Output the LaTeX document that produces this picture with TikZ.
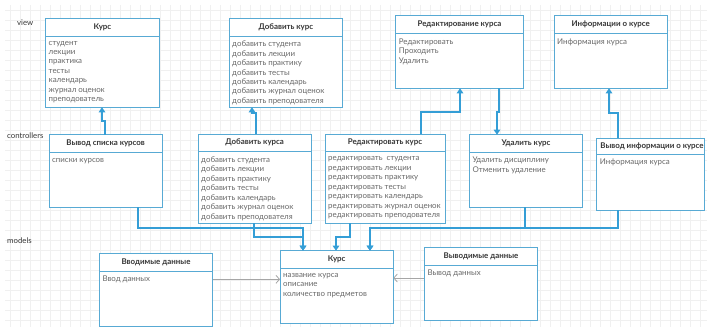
\documentclass[tikz,border=0pt]{standalone}
\usepackage{fontspec}
\setmainfont{Lato}
\usepackage{tikz}
\usetikzlibrary{arrows.meta}

\definecolor{boxblue}{RGB}{88,170,212}
\definecolor{linkblue}{RGB}{52,158,214}
\definecolor{headgray}{RGB}{55,55,55}
\definecolor{textgray}{RGB}{105,105,105}
\definecolor{gridgray}{RGB}{240,240,240}

\begin{document}
\begin{tikzpicture}[x=1pt, y=-1pt,
    umlbox/.style={draw=boxblue, line width=1pt, fill=white, inner sep=0pt, outer sep=0pt, anchor=north west},
    sep/.style={draw=boxblue, line width=1pt},
    title/.style={font=\fontsize{7.9}{9.4}\selectfont\bfseries, text=headgray, text height=5.4pt, text depth=1.4pt, inner sep=0pt},
    items/.style={font=\fontsize{7.9}{9.45}\selectfont, text=textgray, align=left, anchor=north west, inner sep=0pt, execute at begin node={\vphantom{Ay}}},
    layer/.style={font=\fontsize{7.8}{9}\selectfont, text=headgray, anchor=west, inner sep=0pt},
    link/.style={draw=linkblue, line width=1.2pt, -{Triangle[length=5pt,width=6.5pt]}},
    flow/.style={draw=gray!70, line width=0.8pt, -{Straight Barb[length=3.5pt,width=8pt]}}]
    \useasboundingbox (0,0) rectangle (707,327);

    % Background grid
    \draw[gridgray, line width=0.4pt] (5,5) grid[step=10pt] (707,327);

    % Layer names
    \node[layer] (lview) at (17,23) {view};
    \node[layer] (lctrl) at (7,136) {controllers};
    \node[layer] (lmodel) at (7,241) {models};

    % view
    \node[umlbox, minimum width=114pt, minimum height=89pt] (vkurs) at (45.5,18.3) {};
    \draw[sep] (45.5,36) -- +(114,0);
    \node[title] (vkurs-t) at (102.5,27.2) {Курс};
    \node[items] (vkurs-b) at (48.5,40.8) {студент\\лекции\\практика\\тесты\\календарь\\журнал оценок\\преподователь};

    \node[umlbox, minimum width=113.7pt, minimum height=89pt] (vadd) at (229,18.3) {};
    \draw[sep] (229,36) -- +(113.7,0);
    \node[title] (vadd-t) at (285.9,27.2) {Добавить курс};
    \node[items] (vadd-b) at (232,40.8) {добавить студента\\добавить лекции\\добавить практику\\добавить тесты\\добавить календарь\\добавить журнал оценок\\добавить преподователя};

    \node[umlbox, minimum width=127.6pt, minimum height=73pt] (vedit) at (395.7,15.3) {};
    \draw[sep] (395.7,33.7) -- +(127.6,0);
    \node[title] (vedit-t) at (459.5,24.5) {Редактирование курса};
    \node[items] (vedit-b) at (398.7,38.5) {Редактировать\\Проходить\\Удалить};

    \node[umlbox, minimum width=113.3pt, minimum height=73pt] (vinfo) at (554,15.3) {};
    \draw[sep] (554,33.7) -- +(113.3,0);
    \node[title] (vinfo-t) at (610.7,24.5) {Информации о курсе};
    \node[items] (vinfo-b) at (557,38.5) {Информация курса};

    % controllers
    \node[umlbox, minimum width=113.3pt, minimum height=72.6pt] (clist) at (49,134.7) {};
    \draw[sep] (49,152.3) -- +(113.3,0);
    \node[title] (clist-t) at (105.7,143.5) {Вывод списка курсов};
    \node[items] (clist-b) at (52,157.1) {списки курсов};

    \node[umlbox, minimum width=113.3pt, minimum height=89.3pt] (cadd) at (198,134) {};
    \draw[sep] (198,151.7) -- +(113.3,0);
    \node[title] (cadd-t) at (254.7,142.9) {Добавить курса};
    \node[items] (cadd-b) at (201,156.5) {добавить студента\\добавить лекции\\добавить практику\\добавить тесты\\добавить календарь\\добавить журнал оценок\\добавить преподователя};

    \node[umlbox, minimum width=120pt, minimum height=89.3pt] (cedit) at (325,134) {};
    \draw[sep] (325,151.7) -- +(120,0);
    \node[title] (cedit-t) at (385,142.9) {Редактировать курс};
    \node[items] (cedit-b) at (328,156.5) {редактировать\ \ студента\\редактировать лекции\\редактировать практику\\редактировать тесты\\редактировать календарь\\редактировать журнал оценок\\редактировать преподователя};

    \node[umlbox, minimum width=113.4pt, minimum height=72.6pt] (cdel) at (469.3,134.7) {};
    \draw[sep] (469.3,152.3) -- +(113.4,0);
    \node[title] (cdel-t) at (526,143.5) {Удалить курс};
    \node[items] (cdel-b) at (472.3,157.1) {Удалить дисциплину\\Отменить удаление};

    \node[umlbox, minimum width=107.5pt, minimum height=71.7pt] (cinfo) at (596.7,138.3) {};
    \draw[sep] (596.7,154.3) -- +(107.5,0);
    \node[title] (cinfo-t) at (652,146.3) {Вывод информации о курсе};
    \node[items] (cinfo-b) at (599.7,159.1) {Информация курса};

    % models
    \node[umlbox, minimum width=113.4pt, minimum height=73pt] (min) at (99.3,253.3) {};
    \draw[sep] (99.3,271) -- +(113.4,0);
    \node[title] (min-t) at (156,262.2) {Вводимые данные};
    \node[items] (min-b) at (102.3,275.8) {Ввод данных};

    \node[umlbox, minimum width=113.3pt, minimum height=72.6pt] (mkurs) at (280,250.7) {};
    \draw[sep] (280,268.3) -- +(113.3,0);
    \node[title] (mkurs-t) at (336.7,259.5) {Курс};
    \node[items] (mkurs-b) at (283,273.1) {название курса\\описание\\количество предметов};

    \node[umlbox, minimum width=113.4pt, minimum height=72.3pt] (mout) at (424.3,247.7) {};
    \draw[sep] (424.3,265) -- +(113.4,0);
    \node[title] (mout-t) at (481,256.4) {Выводимые данные};
    \node[items] (mout-b) at (427.3,269.8) {Вывод данных};

    % controllers -> view
    \draw[link] ([xshift=56]clist.north west) -- ++(0,-13.7) -| ([xshift=56.5]vkurs.south west);
    \draw[link] ([xshift=58]cadd.north west) -- ++(0,-21) -| ([xshift=23]vadd.south west);
    \draw[link] ([xshift=96]cedit.north west) -- ++(0,-22) -| ([xshift=64.3]vedit.south west);
    \draw[link] ([xshift=103.3]vedit.south west) -- ++(0,23.7) -| ([xshift=27.7]cdel.north west);
    \draw[link] ([xshift=21.3]cinfo.north west) -- ++(0,-25.3) -| ([xshift=55]vinfo.south west);

    % controllers -> models
    \draw[link] ([xshift=89]clist.south west) -- ++(0,20.7) -| ([xshift=23]mkurs.north west);
    \draw[link] ([xshift=56]cadd.south west) -- ++(0,13.7) -| ([xshift=23]mkurs.north west);
    \draw[link] ([xshift=25]cedit.south west) -- ++(0,13.7) -| ([xshift=56]mkurs.north west);
    \draw[link] ([xshift=55.7]cdel.south west) -- ++(0,20.7) -| ([xshift=90]mkurs.north west);
    \draw[link] ([xshift=21.3]cinfo.south west) -- ++(0,18) -| ([xshift=90]mkurs.north west);

    % data in and out
    \draw[flow] ([yshift=-26]min.north east) -- ([yshift=-28.6]mkurs.north west);
    \draw[flow] ([yshift=-30.3]mout.north west) -- ([yshift=-27.3]mkurs.north east);
\end{tikzpicture}
\end{document}
